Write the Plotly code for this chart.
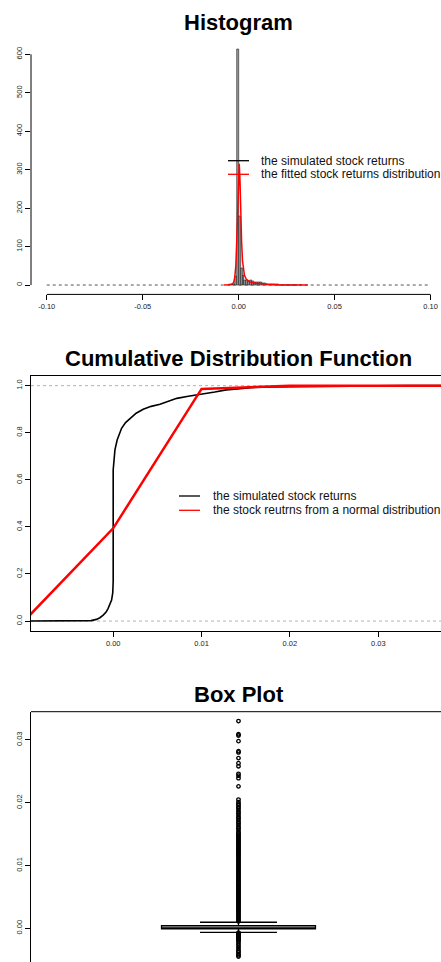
import plotly.graph_objects as go

# ---- data ----
# histogram (density scale), left edges of 0.001-wide bins with non-zero height
hist_left = [-0.005, -0.004, -0.003, -0.002, -0.001, 0.000, 0.001, 0.002, 0.003, 0.004,
             0.005, 0.006, 0.007, 0.008, 0.009, 0.010, 0.011, 0.012, 0.013, 0.014,
             0.015, 0.016, 0.017, 0.018, 0.019, 0.020, 0.021, 0.022, 0.023, 0.024,
             0.025, 0.026, 0.027, 0.028, 0.029, 0.030, 0.032]
hist_density = [1, 2, 3, 22, 612, 178, 43, 25, 13, 11,
                10, 11, 9, 7, 6, 7, 6, 5, 4, 3,
                3, 1.5, 1, 1, 1, 0.6, 0.2, 0.4, 0.3, 0.5,
                0.3, 0.4, 0.3, 0.4, 0.2, 0.4, 0.2]
BIN_W = 0.001

# fitted density curve
fit_x = [-0.0077, -0.005, -0.004, -0.003, -0.0025, -0.002, -0.0015, -0.001, -0.0005, 0.0,
         0.0003, 0.0007, 0.001, 0.0015, 0.002, 0.0025, 0.003, 0.004, 0.005, 0.006,
         0.008, 0.010, 0.012, 0.015, 0.020, 0.025, 0.030, 0.036]
fit_y = [0, 0.3, 1, 4, 9, 22, 50, 115, 220, 295,
         315, 270, 200, 115, 62, 38, 25, 15, 10, 7.5,
         5.5, 4, 3, 1.8, 0.9, 0.5, 0.3, 0.1]

# empirical cdf of the simulated returns
ecdf_x = [-0.0093, -0.004, -0.0025, -0.0019, -0.0015, -0.00113, -0.0008, -0.00057, -0.00035,
          -0.00018, -0.00005, 0.0, 0.0, 0.0002, 0.00045, 0.00095, 0.0014, 0.0019, 0.0026,
          0.0034, 0.0043, 0.0053, 0.0062, 0.0072, 0.0085, 0.010, 0.0115, 0.0128, 0.0145,
          0.0159, 0.018, 0.020, 0.0249, 0.029, 0.033, 0.0371]
ecdf_y = [0.0, 0.0, 0.002, 0.007, 0.014, 0.025, 0.038, 0.054, 0.070,
          0.089, 0.12, 0.167, 0.642, 0.727, 0.769, 0.819, 0.843, 0.861, 0.883,
          0.900, 0.912, 0.921, 0.932, 0.946, 0.955, 0.963, 0.973, 0.982, 0.988,
          0.992, 0.995, 0.996, 0.998, 0.999, 1.0, 1.0]

# normal cdf evaluated on a coarse grid
norm_x = [-0.01, 0.0, 0.01, 0.02, 0.03, 0.04]
norm_y = [0.003, 0.394, 0.986, 0.9995, 1.0, 1.0]

# box plot statistics
box_q1, box_med, box_q3 = -0.0001, 0.0, 0.0004
box_lo, box_hi = -0.00064, 0.00096
outliers_high = [0.0330, 0.0309, 0.0307, 0.0298, 0.0282, 0.0280, 0.0271, 0.0263, 0.0258,
                 0.0246, 0.0243, 0.0239, 0.0226, 0.0205,
                 0.0201, 0.0198, 0.0196, 0.0193, 0.0191, 0.0188, 0.0185, 0.0183, 0.0180,
                 0.0177, 0.0175, 0.0172, 0.0169, 0.0167, 0.0164, 0.0161, 0.0159, 0.0156,
                 0.0153, 0.0151, 0.0149, 0.0147, 0.0145, 0.0143, 0.0141, 0.0139, 0.0137,
                 0.0135, 0.0133, 0.0131, 0.0129, 0.0127, 0.0125, 0.0123, 0.0121, 0.0119,
                 0.0117, 0.0115, 0.0113, 0.0111, 0.0109, 0.0107, 0.0105, 0.0103, 0.0101,
                 0.0099, 0.0097, 0.0095, 0.0093, 0.0091, 0.0089, 0.0087, 0.0085, 0.0083,
                 0.0081, 0.0079, 0.0077, 0.0075, 0.0073, 0.0071, 0.0069, 0.0067, 0.0065,
                 0.0063, 0.0061, 0.0059, 0.0057, 0.0055, 0.0053, 0.0051, 0.0049, 0.0047,
                 0.0045, 0.0043, 0.0041, 0.0039, 0.0037, 0.0035, 0.0033, 0.0031, 0.0029,
                 0.0027, 0.0025, 0.0023, 0.0021, 0.0019, 0.0017, 0.0015, 0.0013, 0.0011]
outliers_low = [-0.0007, -0.0008, -0.0009, -0.0010, -0.0011, -0.0012, -0.0013, -0.0014,
                -0.0015, -0.0016, -0.0017, -0.0018, -0.0019, -0.0021, -0.0024, -0.0027,
                -0.0030, -0.0033, -0.0036, -0.0038, -0.0041, -0.0043, -0.0045]

hist_ticks = [-0.10, -0.05, 0.0, 0.05, 0.10]
hist_ticktext = ["-0.10", "-0.05", "0.00", "0.05", "0.10"]
hist_yticks = [0, 100, 200, 300, 400, 500, 600]
cdf_xticks = [0.0, 0.01, 0.02, 0.03]
cdf_yticks = [0.0, 0.2, 0.4, 0.6, 0.8, 1.0]
box_yticks = [0.0, 0.01, 0.02, 0.03]

W, H = 441, 962
FONT = "Liberation Sans, Arial, sans-serif"


def px_x(p):
    return p / W


def px_y(p):
    return 1 - p / H


fig = go.Figure()

# histogram
fig.add_trace(go.Bar(x=[l + BIN_W / 2 for l in hist_left], y=hist_density, width=BIN_W,
                     marker=dict(color="#9a9a9a", line=dict(color="#222222", width=0.6)),
                     xaxis="x", yaxis="y", showlegend=False))
fig.add_trace(go.Scatter(x=fit_x, y=fit_y, mode="lines", line=dict(color="red", width=1.5),
                         xaxis="x", yaxis="y", showlegend=False))

# cdf
fig.add_trace(go.Scatter(x=ecdf_x, y=ecdf_y, mode="lines", line=dict(color="black", width=1.6),
                         xaxis="x2", yaxis="y2", showlegend=False))
fig.add_trace(go.Scatter(x=norm_x, y=norm_y, mode="lines", line=dict(color="red", width=2.5),
                         xaxis="x2", yaxis="y2", showlegend=False))

# box plot
fig.add_trace(go.Box(x=[1], q1=[box_q1], median=[box_med], q3=[box_q3],
                     lowerfence=[box_lo], upperfence=[box_hi], width=0.371, whiskerwidth=0.5,
                     fillcolor="#dddddd", line=dict(color="black", width=1.3), boxpoints=False,
                     xaxis="x3", yaxis="y3", showlegend=False))
outl = outliers_high + outliers_low
fig.add_trace(go.Scatter(x=[1] * len(outl), y=outl, mode="markers",
                         marker=dict(symbol="circle-open", size=3.5, color="black",
                                     line=dict(width=1.3)),
                         xaxis="x3", yaxis="y3", showlegend=False))

tickfont = dict(family=FONT, size=7.5, color="#222222")
common_x = dict(ticks="outside", ticklen=5, tickcolor="black", showgrid=False, zeroline=False,
                tickfont=tickfont, fixedrange=True)
common_y = dict(ticks="outside", ticklen=5, tickcolor="black", showgrid=False, zeroline=False,
                tickfont=tickfont, tickangle=-90, fixedrange=True)

fig.update_layout(
    width=W, height=H, margin=dict(l=0, r=0, t=0, b=0),
    paper_bgcolor="white", plot_bgcolor="white", bargap=0,
    xaxis=dict(domain=[px_x(31), 1], anchor="y", range=[-0.1082, 0.1054],
               tickvals=hist_ticks, ticktext=hist_ticktext, showline=False, **common_x),
    yaxis=dict(domain=[px_y(294.4), px_y(40.3)], anchor="x", range=[-24.4, 636.4],
               tickvals=hist_yticks, showline=False, **common_y),
    xaxis2=dict(domain=[px_x(31), 1], anchor="y2", range=[-0.0093, 0.0371],
                tickvals=cdf_xticks, ticktext=["0.00", "0.01", "0.02", "0.03"],
                showline=True, linecolor="black", linewidth=1, mirror=True, **common_x),
    yaxis2=dict(domain=[px_y(630.7), px_y(376)], anchor="x2", range=[-0.041, 1.041],
                tickvals=cdf_yticks, ticktext=["0.0", "0.2", "0.4", "0.6", "0.8", "1.0"],
                showline=True, linecolor="black", linewidth=1, **common_y),
    xaxis3=dict(domain=[px_x(31), 1], anchor="y3", range=[0.5, 1.488], showticklabels=False,
                showline=False, showgrid=False, zeroline=False, fixedrange=True),
    yaxis3=dict(domain=[0, px_y(711.7)], anchor="x3", range=[-0.00537, 0.03449],
                tickvals=box_yticks, ticktext=["0.00", "0.01", "0.02", "0.03"],
                showline=True, linecolor="black", linewidth=1, **common_y),
)

shapes = [
    # histogram axis lines spanning the tick range only
    dict(type="line", xref="x", yref="y domain", x0=-0.10, x1=0.10, y0=0, y1=0,
         line=dict(color="black", width=1)),
    dict(type="line", xref="x domain", yref="y", x0=0, x1=0, y0=0, y1=600,
         line=dict(color="black", width=1)),
    # empty bins along the baseline
    dict(type="line", xref="x", yref="y", x0=-0.10, x1=0.10, y0=0, y1=0,
         line=dict(color="#555555", width=1, dash="dot"), layer="below"),
    # reference lines of the cdf panel
    dict(type="line", xref="x2 domain", yref="y2", x0=0, x1=1, y0=0, y1=0,
         line=dict(color="#b3b3b3", width=1, dash="3px,3px"), layer="below"),
    dict(type="line", xref="x2 domain", yref="y2", x0=0, x1=1, y0=1, y1=1,
         line=dict(color="#b3b3b3", width=1, dash="3px,3px"), layer="below"),
    # top of the box-plot frame
    dict(type="line", xref="x3 domain", yref="y3 domain", x0=0, x1=1, y0=1, y1=1,
         line=dict(color="black", width=1)),
]

annotations = []
titles = [("Histogram", 22.7), ("Cumulative Distribution Function", 358.3), ("Box Plot", 694)]
for txt, yc in titles:
    annotations.append(dict(text="<b>%s</b>" % txt, xref="paper", yref="paper",
                            x=px_x(238.5), y=px_y(yc), xanchor="center", yanchor="middle",
                            showarrow=False, font=dict(family=FONT, size=22, color="black")))

legends = [
    (228, 249, 259, [(160.7, "black", "the simulated stock returns"),
                     (174.3, "red", "the fitted stock returns distribution")]),
    (179, 200, 210.7, [(496, "black", "the simulated stock returns"),
                       (510.3, "red", "the stock reutrns from a normal distribution")]),
]
for x0, x1, xt, items in legends:
    for yc, col, label in items:
        shapes.append(dict(type="line", xref="paper", yref="paper", x0=px_x(x0), x1=px_x(x1),
                           y0=px_y(yc), y1=px_y(yc), line=dict(color=col, width=1.3)))
        annotations.append(dict(text=label, xref="paper", yref="paper", x=px_x(xt), y=px_y(yc),
                                xanchor="left", yanchor="middle", showarrow=False,
                                font=dict(family=FONT, size=12, color="#111111")))

fig.update_layout(shapes=shapes, annotations=annotations)

fig.write_html("out.html", config={"displayModeBar": False},
               post_script="document.body.style.margin='0';"
                           "document.body.style.overflow='hidden';")
